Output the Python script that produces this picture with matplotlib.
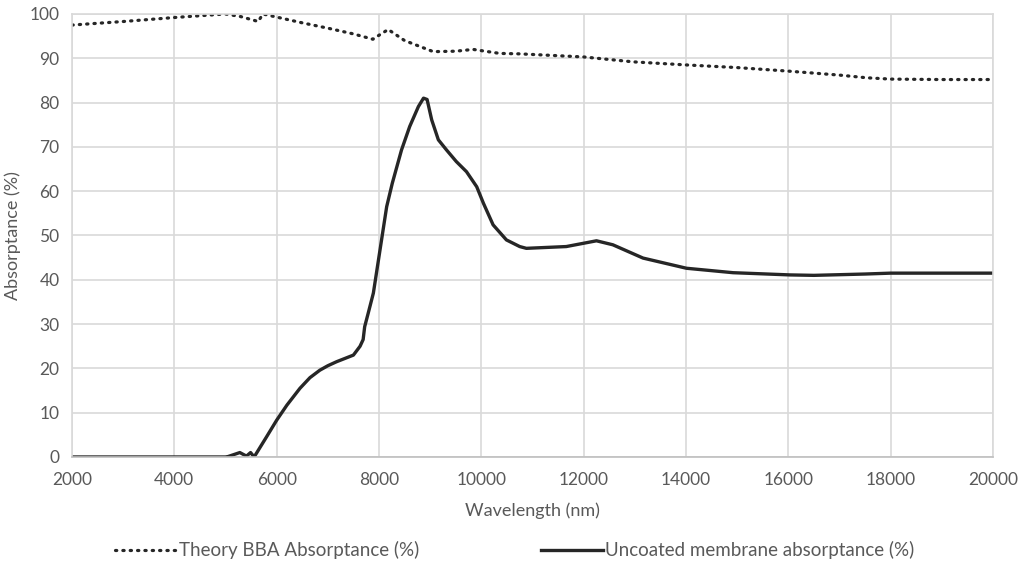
import matplotlib
matplotlib.use("Agg")
import matplotlib.pyplot as plt

plt.rcParams['font.family'] = ['Lato', 'DejaVu Sans']

# Theory BBA absorptance (dotted)
theory_wl = [2000, 3000, 4000, 5000, 5300, 5640, 5730, 6500, 7000, 7500, 7880,
             8000, 8180, 8500, 9060, 9500, 9840, 10360, 10750, 12000, 12960,
             14000, 15000, 16000, 17000, 17530, 18000, 19000, 20000]
theory_abs = [97.5, 98.3, 99.2, 100.0, 99.4, 98.3, 100.0, 98.0, 96.8, 95.5, 94.3,
              95.2, 96.5, 94.0, 91.5, 91.6, 92.0, 91.1, 91.0, 90.3, 89.2,
              88.5, 87.9, 87.1, 86.2, 85.6, 85.3, 85.2, 85.2]

# Uncoated membrane absorptance (solid)
memb_wl = [2000, 3000, 4000, 5000, 5050, 5280, 5410, 5490, 5560, 5800, 6000,
           6200, 6455, 6650, 6845, 7000, 7170, 7500, 7630, 7690, 7720, 7790,
           7890, 7950, 8050, 8150, 8260, 8440, 8600, 8770, 8870, 8940, 9030,
           9160, 9320, 9510, 9710, 9910, 10040, 10230, 10490, 10750, 10880,
           11660, 12250, 12570, 13160, 14010, 14920, 16030, 16500, 17500,
           18000, 19000, 20000]
memb_abs = [0, 0, 0, 0, 0.1, 1.0, 0.2, 1.0, 0.0, 4.5, 8.3,
            11.7, 15.5, 17.9, 19.6, 20.6, 21.5, 23.0, 25.0, 26.5, 29.4, 32.5,
            37.0, 41.5, 49.0, 56.5, 61.8, 69.3, 74.6, 79.1, 81.0, 80.7, 76.1,
            71.6, 69.3, 66.7, 64.4, 61.0, 57.3, 52.4, 49.0, 47.5, 47.1,
            47.5, 48.8, 47.9, 44.9, 42.6, 41.6, 41.1, 41.0, 41.3,
            41.5, 41.5, 41.5]

x_ticks = list(range(2000, 20001, 2000))
y_ticks = list(range(0, 101, 10))

txt = '#595959'
fig = plt.figure(figsize=(10.21, 5.66), dpi=100)
ax = fig.add_axes([0.0705, 0.1926, 0.9021, 0.7827])

ax.plot(theory_wl, theory_abs, linestyle=(0, (0.4, 1.9)), linewidth=2.3,
        color='#262626', dash_capstyle='round', label='Theory BBA Absorptance (%)')
ax.plot(memb_wl, memb_abs, linestyle='-', linewidth=2.4, color='#262626',
        label='Uncoated membrane absorptance (%)')

ax.set_xlim(2000, 20000)
ax.set_ylim(0, 100)
ax.set_xticks(x_ticks)
ax.set_yticks(y_ticks)
ax.grid(True, color='#d9d9d9', linewidth=1.2)
ax.set_axisbelow(True)
ax.tick_params(length=0, labelsize=12.5, colors=txt)
ax.tick_params(axis='x', pad=11)
ax.tick_params(axis='y', pad=9)
for s in ax.spines.values():
    s.set_color('#d9d9d9')
    s.set_linewidth(1.2)
ax.spines['bottom'].set_color('#bfbfbf')

ax.set_xlabel('Wavelength (nm)', fontsize=13, color=txt, labelpad=10)
ax.set_ylabel('Absorptance (%)', fontsize=13, color=txt, labelpad=6)

leg = fig.legend(loc='lower center', bbox_to_anchor=(0.504, -0.018), ncol=2,
                 frameon=False, fontsize=13.5, columnspacing=6.5,
                 handlelength=3.3, handletextpad=0.1)
for t in leg.get_texts():
    t.set_color(txt)

fig.savefig('out.png', dpi=100)
